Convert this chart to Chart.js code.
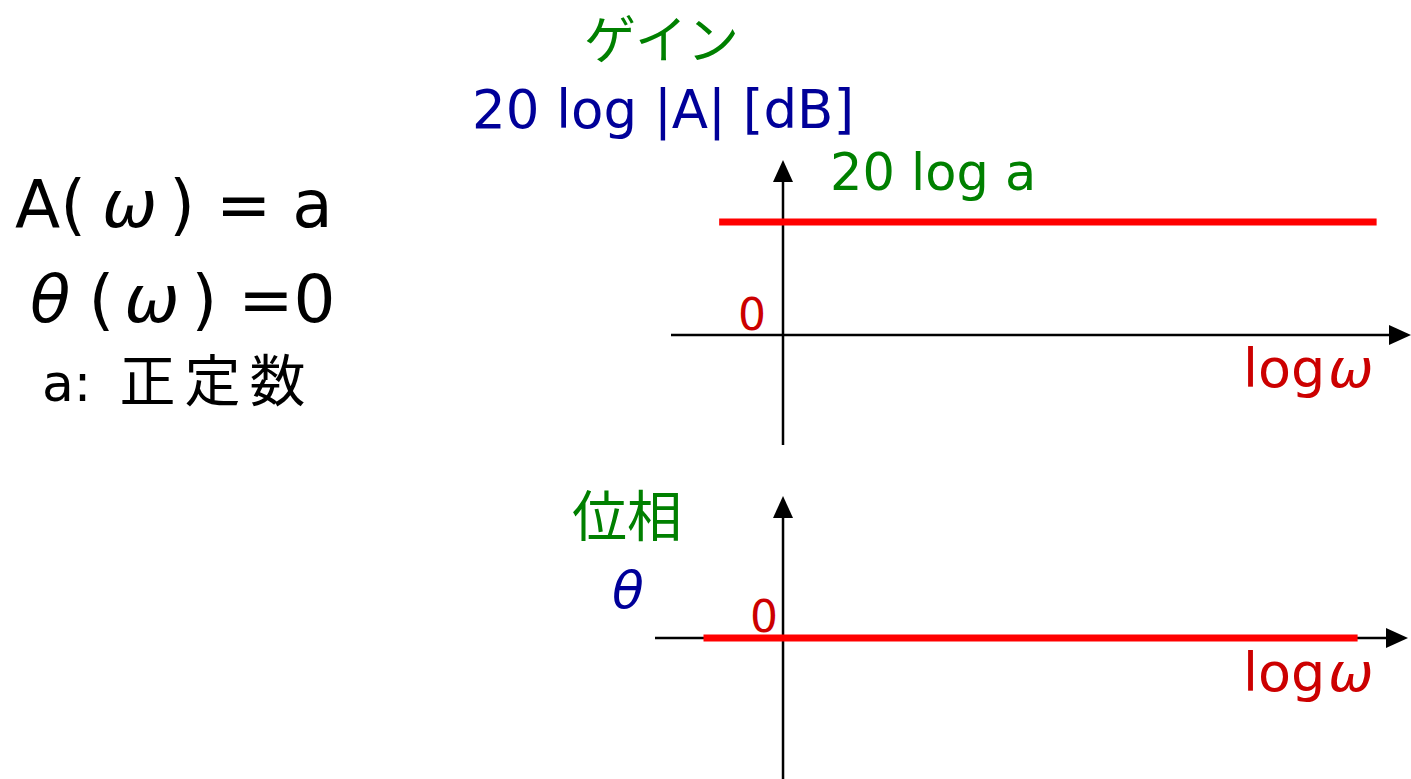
<!DOCTYPE html>
<html>
<head>
<meta charset="utf-8">
<script src="https://cdn.jsdelivr.net/npm/chart.js@4.4.0/dist/chart.umd.min.js"></script>
<style>
  body { margin: 0; background: #fff; width: 1411px; height: 779px; overflow: hidden; position: relative; }
  .lbl { position: absolute; white-space: pre; line-height: 1; font-family: "DejaVu Sans", sans-serif; }
  .jp { font-family: "Noto Sans CJK JP", sans-serif; }
  .it { font-style: italic; }
  .green { color: #008000; }
  .blue { color: #000099; }
  .red { color: #cc0000; }
  canvas { position: absolute; }
</style>
</head>
<body>
<!-- formulas on the left -->
<div class="lbl" style="left:15px; top:172px; font-size:66px;">A(<span class="it" style="margin:0 12px 0 16px;">ω</span>) = a</div>
<div class="lbl" style="left:30px; top:267px; font-size:66px;"><span class="it" style="margin-right:18px;">θ</span>(<span class="it" style="margin:0 12px 0 10px;">ω</span>) =0</div>
<div class="lbl" style="left:42px; top:349px; font-size:52px;">a:<span class="jp" style="font-size:56px; letter-spacing:9px; margin-left:28px;">正定数</span></div>

<!-- gain plot labels -->
<div class="lbl jp green" style="left:584px; top:11px; font-size:52px;">ゲイン</div>
<div class="lbl blue" style="left:472px; top:83px; font-size:53px;">20 log |A| [dB]</div>
<div class="lbl green" style="left:830px; top:147px; font-size:51px;">20 log a</div>
<div class="lbl red" style="left:738px; top:293px; font-size:44px;">0</div>
<div class="lbl red" style="left:1243px; top:342px; font-size:54px;">log<span class="it" style="margin-left:3px;">ω</span></div>

<!-- phase plot labels -->
<div class="lbl jp green" style="left:572px; top:485px; font-size:55px;">位相</div>
<div class="lbl blue it" style="left:612px; top:564px; font-size:52px;">θ</div>
<div class="lbl red" style="left:750px; top:595px; font-size:44px;">0</div>
<div class="lbl red" style="left:1243px; top:646px; font-size:54px;">log<span class="it" style="margin-left:3px;">ω</span></div>

<canvas id="gainChart" style="left:660px; top:150px;" width="751" height="305"></canvas>
<canvas id="phaseChart" style="left:645px; top:486px;" width="766" height="293"></canvas>

<script>
  // log(omega) positions of the line ends, in decades from the vertical axis
  const omegaGain = [-0.57, 5.3];
  const gainDb = [1, 1]; // 20 log a (taken as 1 unit)
  const omegaPhase = [-0.71, 5.13];
  const phaseRad = [0, 0];

  // draws the crossing axes through the origin with arrow heads
  const crossAxes = {
    id: "crossAxes",
    beforeDatasetsDraw(chart) {
      const { ctx, chartArea, scales } = chart;
      const x0 = scales.x.getPixelForValue(0);
      const y0 = scales.y.getPixelForValue(0);
      const head = 22, half = 10;
      ctx.save();
      ctx.strokeStyle = "#000";
      ctx.fillStyle = "#000";
      ctx.lineWidth = 2.5;
      ctx.beginPath();
      ctx.moveTo(chartArea.left, y0);
      ctx.lineTo(chartArea.right - head, y0);
      ctx.moveTo(x0, chartArea.bottom);
      ctx.lineTo(x0, chartArea.top + head);
      ctx.stroke();
      // arrow heads
      ctx.beginPath();
      ctx.moveTo(chartArea.right, y0);
      ctx.lineTo(chartArea.right - head, y0 - half);
      ctx.lineTo(chartArea.right - head, y0 + half);
      ctx.closePath();
      ctx.fill();
      ctx.beginPath();
      ctx.moveTo(x0, chartArea.top);
      ctx.lineTo(x0 - half, chartArea.top + head);
      ctx.lineTo(x0 + half, chartArea.top + head);
      ctx.closePath();
      ctx.fill();
      ctx.restore();
    },
  };

  function makeChart(id, xs, ys, xRange, yRange, pad) {
    return new Chart(document.getElementById(id), {
      type: "line",
      data: {
        datasets: [
          {
            data: xs.map((x, i) => ({ x: x, y: ys[i] })),
            borderColor: "#ff0000",
            borderWidth: 7,
            borderCapStyle: "butt",
            pointRadius: 0,
            tension: 0,
          },
        ],
      },
      options: {
        responsive: false,
        animation: false,
        events: [],
        layout: { padding: pad },
        plugins: { legend: { display: false }, tooltip: { enabled: false } },
        scales: {
          x: { type: "linear", display: false, min: xRange[0], max: xRange[1] },
          y: { type: "linear", display: false, min: yRange[0], max: yRange[1] },
        },
      },
      plugins: [crossAxes],
    });
  }

  makeChart("gainChart", omegaGain, gainDb, [-1, 5.607], [-0.973, 1.549],
    { left: 11, top: 10, right: 0, bottom: 10 });
  makeChart("phaseChart", omegaPhase, phaseRad, [-1.143, 5.58], [-1.41, 1.42],
    { left: 10, top: 10, right: 3, bottom: 0 });
</script>
</body>
</html>
